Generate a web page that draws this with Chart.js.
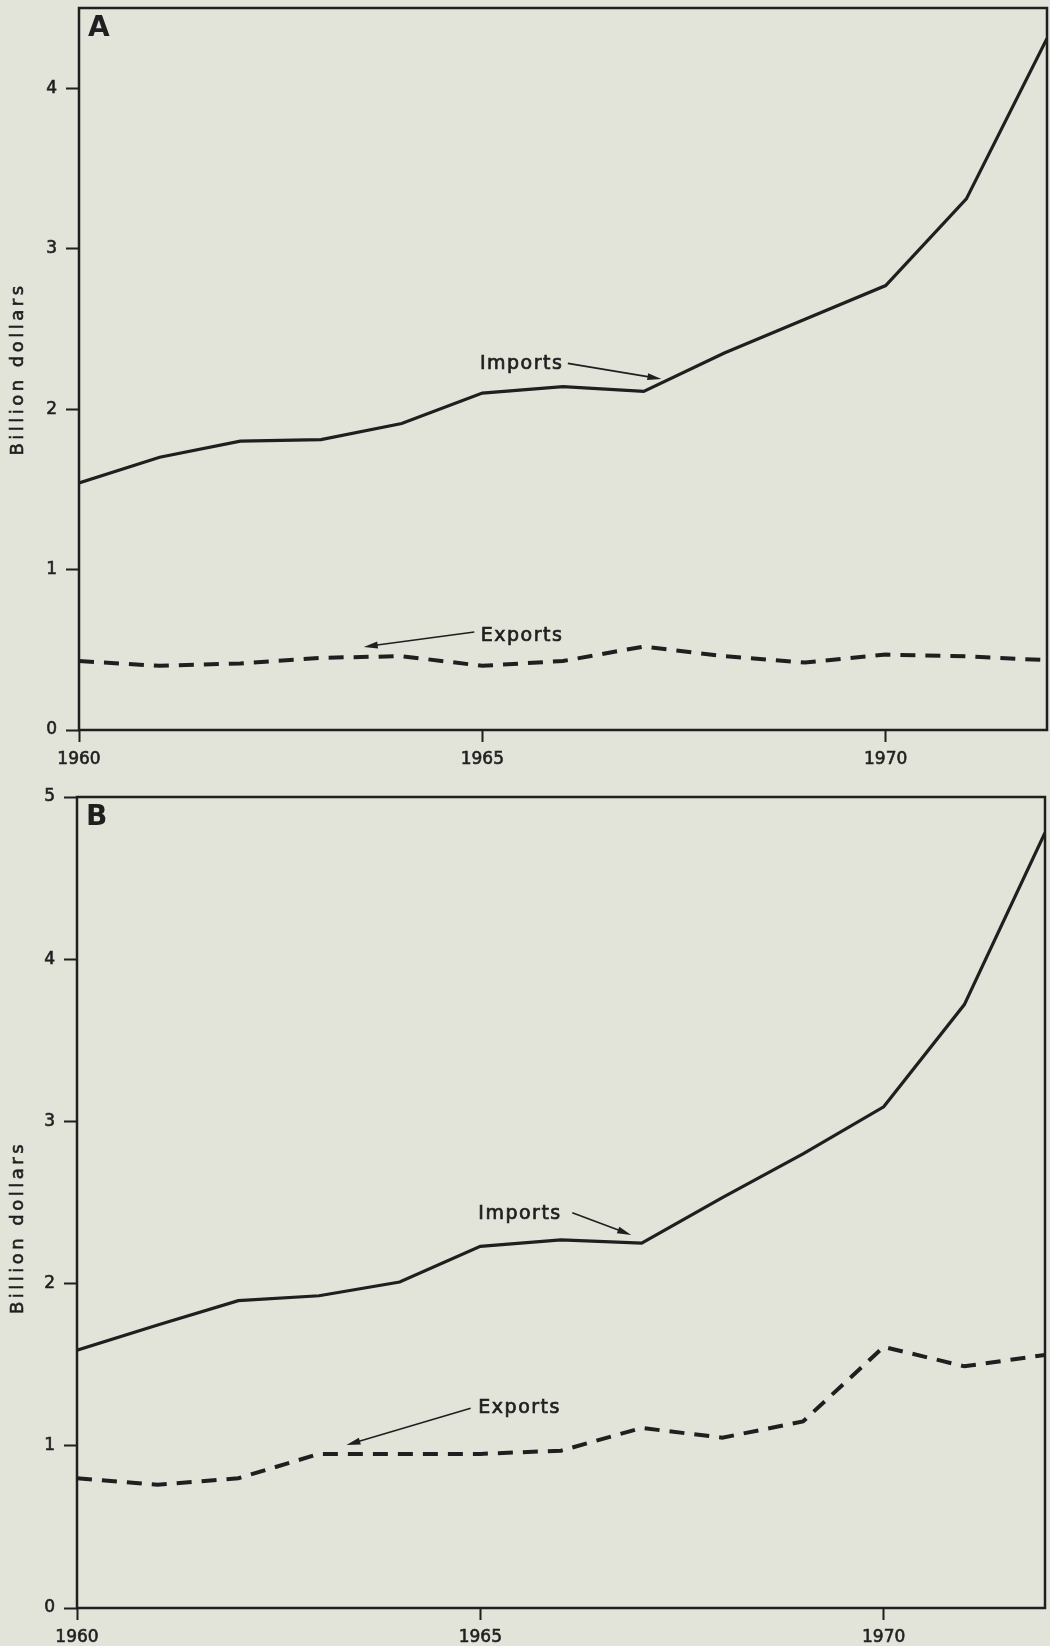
<!DOCTYPE html>
<html>
<head>
<meta charset="utf-8">
<script src="https://cdn.jsdelivr.net/npm/chart.js@4.4.1/dist/chart.umd.min.js"></script>
<style>
  html, body { margin: 0; padding: 0; background: #e2e4da; }
  #wrap { position: relative; width: 1050px; height: 1646px; }
  .box { position: absolute; left: 0; width: 1050px; }
  #boxA { top: 0; height: 780px; }
  #boxB { top: 780px; height: 866px; }
</style>
</head>
<body>
<div id="wrap">
  <div class="box" id="boxA"><canvas id="chartA"></canvas></div>
  <div class="box" id="boxB"><canvas id="chartB"></canvas></div>
</div>
<script>
// values (billion dollars)
const years = [1960, 1961, 1962, 1963, 1964, 1965, 1966, 1967, 1968, 1969, 1970, 1971, 1972];
const importsA = [1.54, 1.70, 1.80, 1.81, 1.91, 2.10, 2.14, 2.11, 2.35, 2.56, 2.77, 3.31, 4.31];
const exportsA = [0.43, 0.40, 0.415, 0.45, 0.46, 0.40, 0.43, 0.52, 0.46, 0.42, 0.47, 0.46, 0.435];
const importsB = [1.59, 1.745, 1.895, 1.925, 2.01, 2.23, 2.27, 2.25, 2.53, 2.80, 3.09, 3.72, 4.78];
const exportsB = [0.80, 0.76, 0.80, 0.95, 0.95, 0.95, 0.97, 1.11, 1.05, 1.15, 1.61, 1.49, 1.56];
const xTickYears = [1960, 1965, 1970];
const yTicksA = [0, 1, 2, 3, 4];
const yTicksB = [0, 1, 2, 3, 4, 5];

// label + arrow for each line, in data units
const notesA = [
  { text: 'Imports', at: [1964.97, 2.283], from: [1966.06, 2.285], to: [1967.22, 2.188] },
  { text: 'Exports', at: [1964.98, 0.585], from: [1964.90, 0.611], to: [1963.53, 0.518] }
];
const notesB = [
  { text: 'Imports', at: [1964.975, 2.43], from: [1966.14, 2.437], to: [1966.87, 2.30] },
  { text: 'Exports', at: [1964.975, 1.233], from: [1964.88, 1.231], to: [1963.34, 1.005] }
];

const ink = '#1f1f1f';
const font = '"DejaVu Sans", "Liberation Sans", sans-serif';

function pts(vals) {
  return years.map((yr, i) => ({ x: yr, y: vals[i] }));
}

const framePlugin = {
  id: 'frame',
  afterDraw(chart, args, opts) {
    const { ctx, chartArea: a, scales } = chart;
    ctx.save();
    ctx.strokeStyle = ink;
    ctx.lineWidth = 2.5;
    ctx.strokeRect(a.left, a.top, a.right - a.left, a.bottom - a.top);

    // panel letter
    ctx.fillStyle = ink;
    ctx.font = 'bold 28px ' + font;
    ctx.textBaseline = 'alphabetic';
    ctx.textAlign = 'left';
    ctx.fillText(opts.letter, a.left + 9, a.top + 28);

    // notes with arrows
    ctx.font = '19px ' + font;
    ctx.letterSpacing = '1.5px';
    ctx.textBaseline = 'middle';
    opts.notes.forEach(n => {
      const tx = scales.x.getPixelForValue(n.at[0]);
      const ty = scales.y.getPixelForValue(n.at[1]);
      ctx.lineWidth = 0.7;
      ctx.fillText(n.text, tx, ty);
      ctx.strokeText(n.text, tx, ty);
      const x1 = scales.x.getPixelForValue(n.from[0]);
      const y1 = scales.y.getPixelForValue(n.from[1]);
      const x2 = scales.x.getPixelForValue(n.to[0]);
      const y2 = scales.y.getPixelForValue(n.to[1]);
      const ang = Math.atan2(y2 - y1, x2 - x1);
      ctx.lineWidth = 1.6;
      ctx.beginPath();
      ctx.moveTo(x1, y1);
      ctx.lineTo(x2 - 8 * Math.cos(ang), y2 - 8 * Math.sin(ang));
      ctx.stroke();
      ctx.beginPath();
      ctx.moveTo(x2, y2);
      ctx.lineTo(x2 - 14 * Math.cos(ang) + 3.5 * Math.sin(ang), y2 - 14 * Math.sin(ang) - 3.5 * Math.cos(ang));
      ctx.lineTo(x2 - 14 * Math.cos(ang) - 3.5 * Math.sin(ang), y2 - 14 * Math.sin(ang) + 3.5 * Math.cos(ang));
      ctx.closePath();
      ctx.fill();
    });

    // axis title
    ctx.font = '18px ' + font;
    ctx.letterSpacing = '3.5px';
    ctx.textAlign = 'center';
    ctx.lineWidth = 0.6;
    ctx.translate(18, (a.top + a.bottom) / 2 + opts.titleShift);
    ctx.rotate(-Math.PI / 2);
    ctx.fillText('Billion dollars', 0, 0);
    ctx.strokeText('Billion dollars', 0, 0);
    ctx.restore();
  }
};

function makeChart(id, imports, exports, yMax, yTicks, yWidth, xHeight, pad, letter, notes, titleShift) {
  return new Chart(document.getElementById(id), {
    type: 'line',
    data: {
      datasets: [
        { label: 'Imports', data: pts(imports), borderColor: ink, borderWidth: 3.2,
          pointRadius: 0, tension: 0, fill: false },
        { label: 'Exports', data: pts(exports), borderColor: ink, borderWidth: 4,
          borderDash: [15, 10], pointRadius: 0, tension: 0, fill: false }
      ]
    },
    options: {
      responsive: true,
      maintainAspectRatio: false,
      animation: false,
      layout: { padding: pad },
      plugins: {
        legend: { display: false },
        tooltip: { enabled: false },
        frame: { letter: letter, notes: notes, titleShift: titleShift }
      },
      scales: {
        x: {
          type: 'linear', min: 1960, max: 1972,
          afterBuildTicks: s => { s.ticks = xTickYears.map(v => ({ value: v })); },
          afterFit: s => { s.height = xHeight; s.paddingLeft = 0; s.paddingRight = 0; },
          border: { display: false },
          grid: { drawOnChartArea: false, drawTicks: true, tickLength: 12, tickColor: ink, tickWidth: 2 },
          ticks: { color: ink, font: { family: font, size: 17 }, padding: 7, maxRotation: 0,
                   textStrokeColor: ink, textStrokeWidth: 0.6, callback: v => String(v) }
        },
        y: {
          min: 0, max: yMax,
          afterBuildTicks: s => { s.ticks = yTicks.map(v => ({ value: v })); },
          afterFit: s => { s.width = yWidth; s.paddingTop = 0; s.paddingBottom = 0; },
          border: { display: false },
          grid: { drawOnChartArea: false, drawTicks: true, tickLength: 13, tickColor: ink, tickWidth: 2 },
          ticks: { color: ink, font: { family: font, size: 17 }, padding: 9,
                   textStrokeColor: ink, textStrokeWidth: 0.6 }
        }
      }
    },
    plugins: [framePlugin]
  });
}

makeChart('chartA', importsA, exportsA, 4.5, yTicksA, 79, 50, { left: 0, top: 8, right: 3, bottom: 0 }, 'A', notesA, 0);
makeChart('chartB', importsB, exportsB, 5, yTicksB, 77, 38, { left: 0, top: 17, right: 5, bottom: 0 }, 'B', notesB, 25);
</script>
</body>
</html>
